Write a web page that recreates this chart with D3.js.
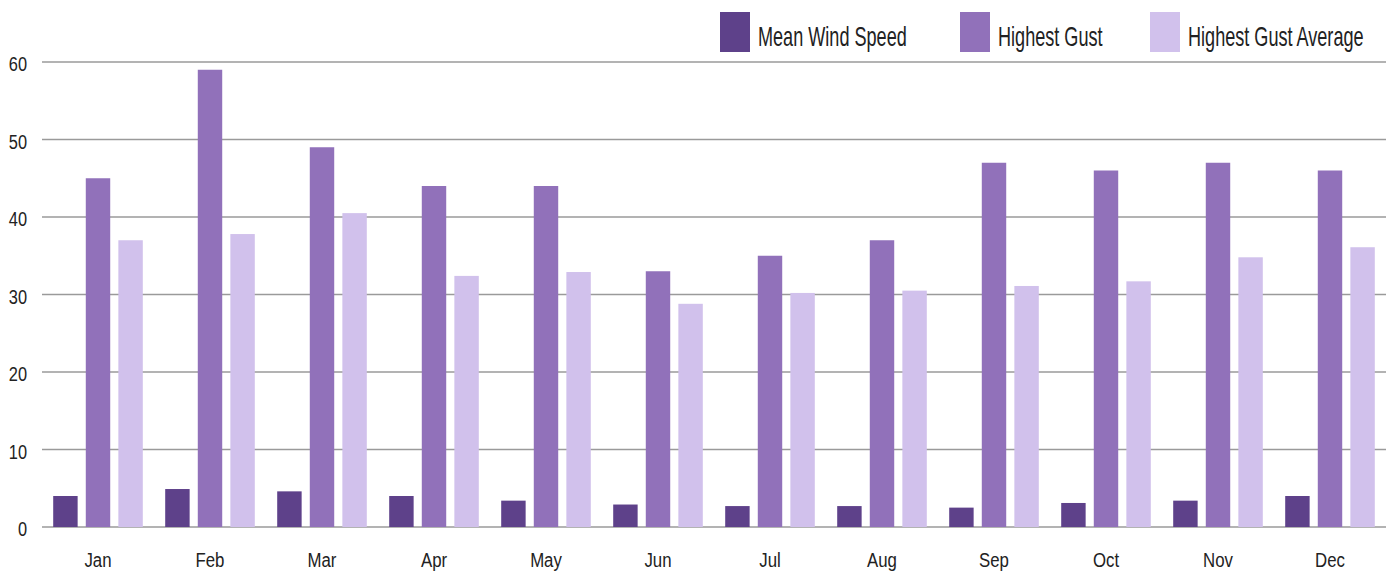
<!DOCTYPE html>
<html><head><meta charset="utf-8">
<script src="https://cdn.jsdelivr.net/npm/d3@7"></script>
<style>body{margin:0;background:#fff}svg{display:block}text{font-family:"Liberation Sans Narrow","Arial Narrow","Liberation Sans",sans-serif;fill:#222}</style>
</head><body>
<svg id="c" width="1394" height="572"></svg>
<script>
const months = ["Jan","Feb","Mar","Apr","May","Jun","Jul","Aug","Sep","Oct","Nov","Dec"];
const seriesNames = ["Mean Wind Speed","Highest Gust","Highest Gust Average"];
const meanWind = [4.0,4.9,4.6,4.0,3.4,2.9,2.7,2.7,2.5,3.1,3.4,4.0];
const highestGust = [45,59,49,44,44,33,35,37,47,46,47,46];
const gustAverage = [37,37.8,40.5,32.4,32.9,28.8,30.2,30.5,31.1,31.7,34.8,36.1];
const yTicks = [0,10,20,30,40,50,60];
const colors = ["#5e418a","#9171ba","#d1c1ec"];

const svg = d3.select("#c");
const x = d3.scaleBand().domain(months).range([42,1386]).paddingInner(0.2).paddingOuter(0.1);
const y = d3.scaleLinear().domain([0,60]).range([527,62]);
const sub = d3.scaleBand().domain(seriesNames).range([0,x.bandwidth()]).paddingInner(0.25);

function ctext(g, px, py, str, size, sx, anchor){
  return g.append("text").attr("transform",`translate(${px},${py}) scale(${sx},1)`)
    .attr("font-size",size).attr("text-anchor",anchor||"start").text(str);
}

// gridlines
svg.append("g").selectAll("line").data(yTicks).join("line")
  .attr("x1",42).attr("x2",1386).attr("y1",d=>y(d)).attr("y2",d=>y(d))
  .attr("stroke","#9a9a9a").attr("stroke-width",1.5);
const yl = svg.append("g");
yTicks.forEach(d=>ctext(yl,27,y(d)+9,d,21,0.78,"end"));

const data = [meanWind, highestGust, gustAverage];
data.forEach((vals,si)=>{
  svg.append("g").selectAll("rect").data(vals).join("rect")
    .attr("x",(d,i)=>x(months[i])+sub(seriesNames[si]))
    .attr("width",sub.bandwidth())
    .attr("y",d=>y(d)).attr("height",d=>y(0)-y(d))
    .attr("fill",colors[si]);
});

const xl = svg.append("g");
months.forEach(m=>ctext(xl,x(m)+x.bandwidth()/2,567,m,21,0.8,"middle"));

// legend
const legX = [720,960,1150];
const lg = svg.append("g");
seriesNames.forEach((n,i)=>{
  lg.append("rect").attr("x",legX[i]).attr("y",12).attr("width",30).attr("height",40).attr("fill",colors[i]);
  ctext(lg,legX[i]+38,46,n,27,0.67,"start");
});
</script>
</body></html>
